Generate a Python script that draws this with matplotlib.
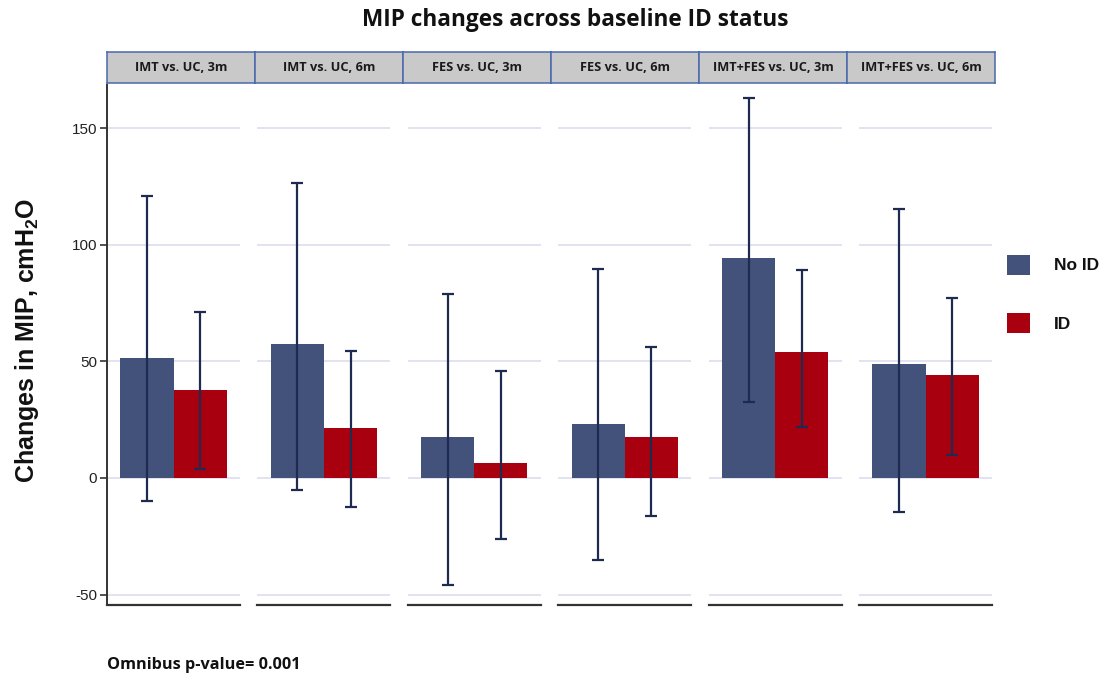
import matplotlib
matplotlib.use("Agg")
import matplotlib.pyplot as plt
import numpy as np
from matplotlib.patches import Rectangle

# ---- data ----
panels = ["IMT vs. UC, 3m", "IMT vs. UC, 6m", "FES vs. UC, 3m",
          "FES vs. UC, 6m", "IMT+FES vs. UC, 3m", "IMT+FES vs. UC, 6m"]
groups = ["No ID", "ID"]
noid_mean = [51.5, 57.5, 17.5, 23.0, 94.5, 49.0]
noid_low = [-10.0, -5.0, -46.0, -35.0, 32.5, -14.5]
noid_high = [121.0, 126.5, 79.0, 89.5, 163.0, 115.5]
id_mean = [37.5, 21.5, 6.5, 17.5, 54.0, 44.0]
id_low = [4.0, -12.5, -26.0, -16.5, 22.0, 10.0]
id_high = [71.0, 54.5, 46.0, 56.0, 89.0, 77.0]
yticks = [-50, 0, 50, 100, 150]

title = "MIP changes across baseline ID status"
ylabel = "Changes in MIP, cmH$_\\mathregular{2}$O"
footnote = "Omnibus p-value= 0.001"

# ---- style ----
c_noid = "#43527b"
c_id = "#a9000f"
c_err = "#1e2a50"
c_grid = "#dfe1f0"
c_strip = "#c9c9c9"
c_strip_edge = "#4a68ad"
bold_font = ["Open Sans", "DejaVu Sans"]
tick_font = ["Liberation Sans", "DejaVu Sans"]

W, H = 1103, 679
fig = plt.figure(figsize=(W / 100, H / 100), dpi=100)
fig.patch.set_facecolor("white")

ax_left0 = 107
ax_step = 150.4
ax_w = 133
ax_bottom = 605
ax_top = 85
ylim = (-54.5, 168.5)

strip_left = 107
strip_w = 148
strip_top = 52
strip_bot = 83

def fx(px):
    return px / W

def fy(py):
    return 1 - py / H

axes = []
for i, name in enumerate(panels):
    left = ax_left0 + i * ax_step
    ax = fig.add_axes([fx(left), fy(ax_bottom), fx(ax_w), fy(ax_top) - fy(ax_bottom)])
    axes.append(ax)
    ax.set_ylim(*ylim)
    ax.set_xlim(-1.25, 1.25)
    for yv in yticks:
        ax.axhline(yv, color=c_grid, lw=1.3, zorder=0.5)
    x = np.array([-0.5, 0.5])
    means = [noid_mean[i], id_mean[i]]
    lows = [noid_low[i], id_low[i]]
    highs = [noid_high[i], id_high[i]]
    ax.bar(x, means, width=1.0, color=[c_noid, c_id], zorder=2)
    yerr = np.array([[m - l for m, l in zip(means, lows)],
                     [h - m for m, h in zip(means, highs)]])
    ax.errorbar(x, means, yerr=yerr, fmt="none", ecolor=c_err, elinewidth=1.6,
                capsize=4.5, capthick=1.6, zorder=3)
    for s in ["top", "right"]:
        ax.spines[s].set_visible(False)
    ax.spines["bottom"].set_color("#333333")
    ax.spines["bottom"].set_linewidth(1.6)
    ax.set_xticks([])
    if i == 0:
        ax.spines["left"].set_color("#333333")
        ax.spines["left"].set_linewidth(1.4)
        ax.set_yticks(yticks)
        ax.set_yticklabels([str(v) for v in yticks], family=tick_font, fontsize=11,
                           color="#222222")
        ax.tick_params(axis="y", length=5, width=1.2, color="#333333", pad=2)
    else:
        ax.spines["left"].set_visible(False)
        ax.set_yticks([])
    ax.patch.set_alpha(0)

    # strip
    sx = strip_left + i * strip_w
    sax = fig.add_axes([fx(sx), fy(strip_bot), fx(strip_w), fy(strip_top) - fy(strip_bot)])
    sax.set_facecolor(c_strip)
    sax.set_xticks([])
    sax.set_yticks([])
    for s in sax.spines.values():
        s.set_color(c_strip_edge)
        s.set_linewidth(1.1)
    sax.text(0.5, 0.5, name, ha="center", va="center", fontsize=9.2,
             fontweight="bold", family=bold_font, color="#1a1a1a",
             transform=sax.transAxes)

fig.text(fx(575), fy(20), title, ha="center", va="center", fontsize=16.3,
         fontweight="bold", family=bold_font, color="#111111")
fig.text(fx(27), fy(340), ylabel, ha="center", va="center", rotation=90,
         fontsize=18, fontweight="bold", family=["Liberation Sans", "DejaVu Sans"],
         color="#111111")
fig.text(fx(107), fy(665), footnote, ha="left", va="center", fontsize=11.7,
         fontweight="bold", family=bold_font, color="#111111")

# legend drawn manually
leg_colors = [c_noid, c_id]
leg_y = [265, 323]
for lab, col, yc in zip(groups, leg_colors, leg_y):
    fig.patches.append(Rectangle((fx(1007), fy(yc + 10)), fx(23), fy(yc - 10) - fy(yc + 10),
                                 facecolor=col, edgecolor="none",
                                 transform=fig.transFigure, figure=fig))
    fig.text(fx(1054), fy(yc + 1), lab, ha="left", va="center", fontsize=12.5,
             fontweight="bold", family=["Liberation Sans", "DejaVu Sans"], color="#111111")

fig.savefig("out.png", dpi=100, facecolor="white")
